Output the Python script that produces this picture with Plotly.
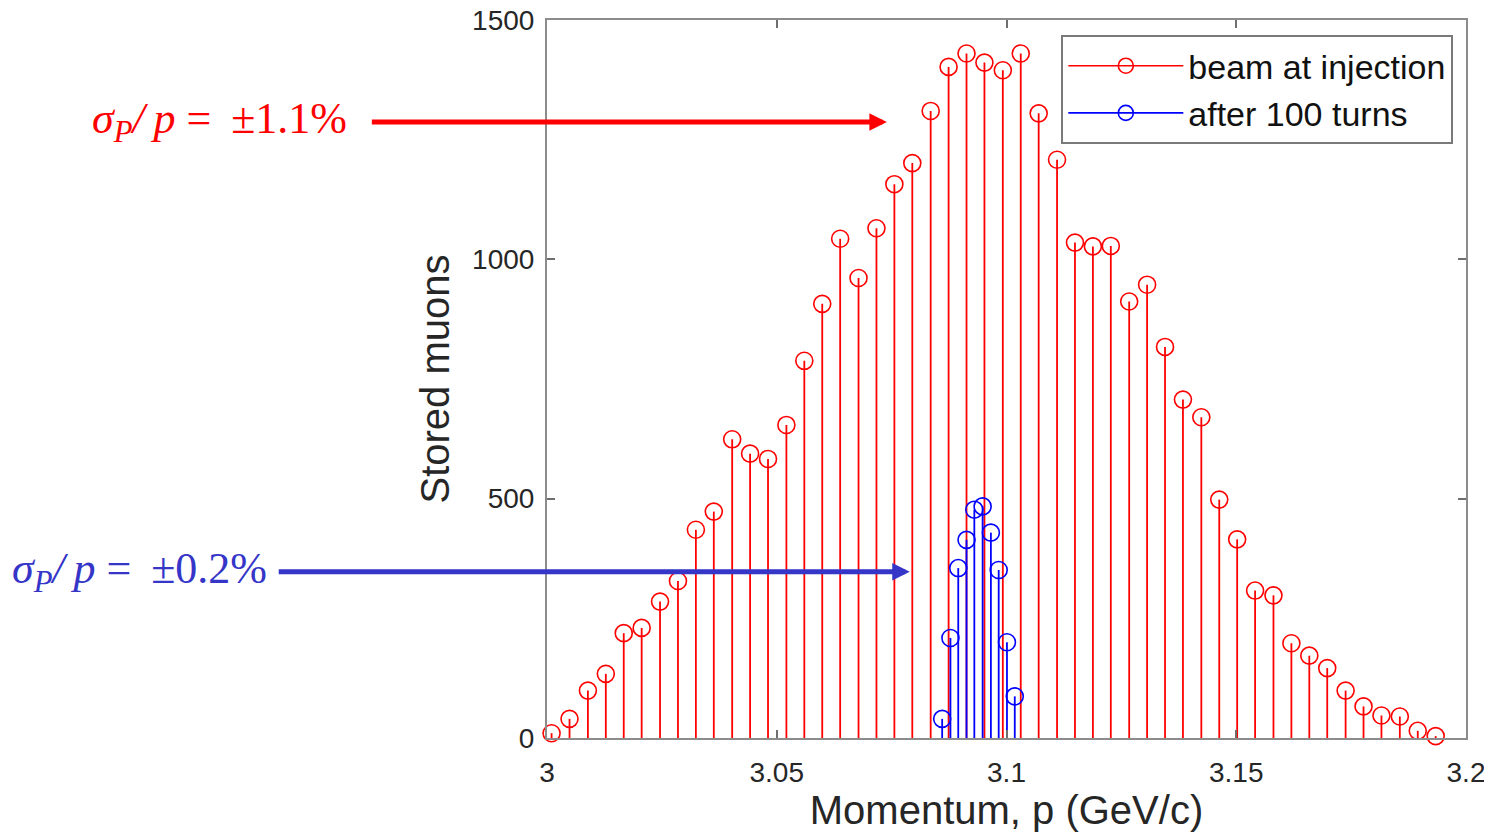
import plotly.graph_objects as go

# ---- data ----
inj_p = [3.0010, 3.0049, 3.0089, 3.0128, 3.0167, 3.0206, 3.0246, 3.0285, 3.0324, 3.0363,
         3.0403, 3.0442, 3.0481, 3.0521, 3.0560, 3.0599, 3.0638, 3.0678, 3.0717, 3.0756,
         3.0795, 3.0835, 3.0874, 3.0913, 3.0952, 3.0992, 3.1031, 3.1070, 3.1110, 3.1149,
         3.1188, 3.1227, 3.1267, 3.1306, 3.1345, 3.1384, 3.1424, 3.1463, 3.1502, 3.1541,
         3.1581, 3.1620, 3.1659, 3.1698, 3.1738, 3.1777, 3.1816, 3.1856, 3.1895, 3.1934]
inj_n = [10, 40, 99, 134, 219, 230, 285, 328, 435, 473,
         624, 594, 583, 654, 788, 907, 1043, 961, 1065, 1157,
         1201, 1310, 1402, 1430, 1411, 1395, 1430, 1305, 1208, 1035,
         1027, 1028, 912, 947, 817, 707, 670, 498, 415, 308,
         298, 198, 172, 146, 99, 66, 47, 45, 15, 4]

turn_p = [3.0860, 3.0878, 3.0895, 3.0913, 3.0930, 3.0948, 3.0966, 3.0983, 3.1001, 3.1018]
turn_n = [40, 209, 355, 414, 477, 484, 429, 351, 200, 87]

x_tickvals = [3.0, 3.05, 3.1, 3.15, 3.2]
x_ticktext = ["3", "3.05", "3.1", "3.15", "3.2"]
y_tickvals = [0, 500, 1000, 1500]

RED = "#ff0000"
BLUE = "#0000ff"
ANN_BLUE = "#3535c8"
SANS = "Liberation Sans, Arial, sans-serif"
SERIF = "Liberation Serif, DejaVu Serif, serif"
THIN = "\u2009"


def stems(xs, ys):
    sx, sy = [], []
    for xv, yv in zip(xs, ys):
        sx += [xv, xv, None]
        sy += [0, yv, None]
    return sx, sy


def sigma_label(value):
    return ("<i>σ</i><sub><i>P</i></sub><i>/</i>" + THIN + "<i>p</i>"
            + " = " + THIN + value)


fig = go.Figure()
for name, xs, ys, col in [("beam at injection", inj_p, inj_n, RED),
                          ("after 100 turns", turn_p, turn_n, BLUE)]:
    sx, sy = stems(xs, ys)
    fig.add_trace(go.Scatter(x=sx, y=sy, mode="lines", line=dict(color=col, width=1.8),
                             showlegend=False, hoverinfo="skip", cliponaxis=False))
    fig.add_trace(go.Scatter(x=xs, y=ys, mode="markers", showlegend=False, cliponaxis=False,
                             marker=dict(symbol="circle-open", size=17, color=col,
                                         line=dict(width=1.6, color=col))))
    fig.add_trace(go.Scatter(x=[None], y=[None], mode="lines+markers", name=name,
                             line=dict(color=col, width=1.6),
                             marker=dict(symbol="circle-open", size=15, color=col,
                                         line=dict(width=1.6, color=col))))

axis_common = dict(showgrid=False, zeroline=False, showline=True, linecolor="#8c8c8c",
                   linewidth=2, mirror="ticks", ticks="inside", ticklen=8, tickwidth=1.5,
                   tickcolor="#6e6e6e", automargin=False, ticklabeloverflow="allow",
                   tickfont=dict(family=SANS, size=28, color="#262626"))

fig.update_xaxes(range=[3.0, 3.2], tickvals=x_tickvals, ticktext=x_ticktext,
                 ticklabelstandoff=8,
                 title=dict(text="Momentum, p (GeV/c)", standoff=2,
                            font=dict(family=SANS, size=40, color="#262626")),
                 **axis_common)
fig.update_yaxes(range=[0, 1500], tickvals=y_tickvals, ticklabelstandoff=5,
                 title=dict(text="Stored muons", standoff=10,
                            font=dict(family=SANS, size=40, color="#262626")),
                 **axis_common)

# page body has an 8 px margin, so the figure is sized/offset to land the plot
# area where the reference has it
fig.update_layout(
    width=1484, height=829,
    margin=dict(l=539, r=26, t=12, b=99, pad=0),
    paper_bgcolor="white", plot_bgcolor="white",
    showlegend=True,
    legend=dict(x=0.9862, y=0.979, xanchor="right", yanchor="top",
                bgcolor="white", bordercolor="#7a7a7a", borderwidth=2,
                font=dict(family=SANS, size=34, color="#111111"),
                itemwidth=115, tracegroupgap=0),
    annotations=[
        dict(xref="paper", yref="paper", x=0.3698, y=0.858, ax=-667, ay=0,
             text=sigma_label("±1.1%"),
             showarrow=True, arrowcolor=RED, arrowwidth=5, arrowhead=2, arrowsize=0.7,
             startstandoff=23,
             font=dict(family=SERIF, size=44, color=RED)),
        dict(xref="paper", yref="paper", x=0.3947, y=0.2315, ax=-770, ay=0,
             text=sigma_label("±0.2%"),
             showarrow=True, arrowcolor=ANN_BLUE, arrowwidth=5, arrowhead=2, arrowsize=0.7,
             startstandoff=10,
             font=dict(family=SERIF, size=44, color=ANN_BLUE)),
    ],
)

fig.write_html("out.html")
